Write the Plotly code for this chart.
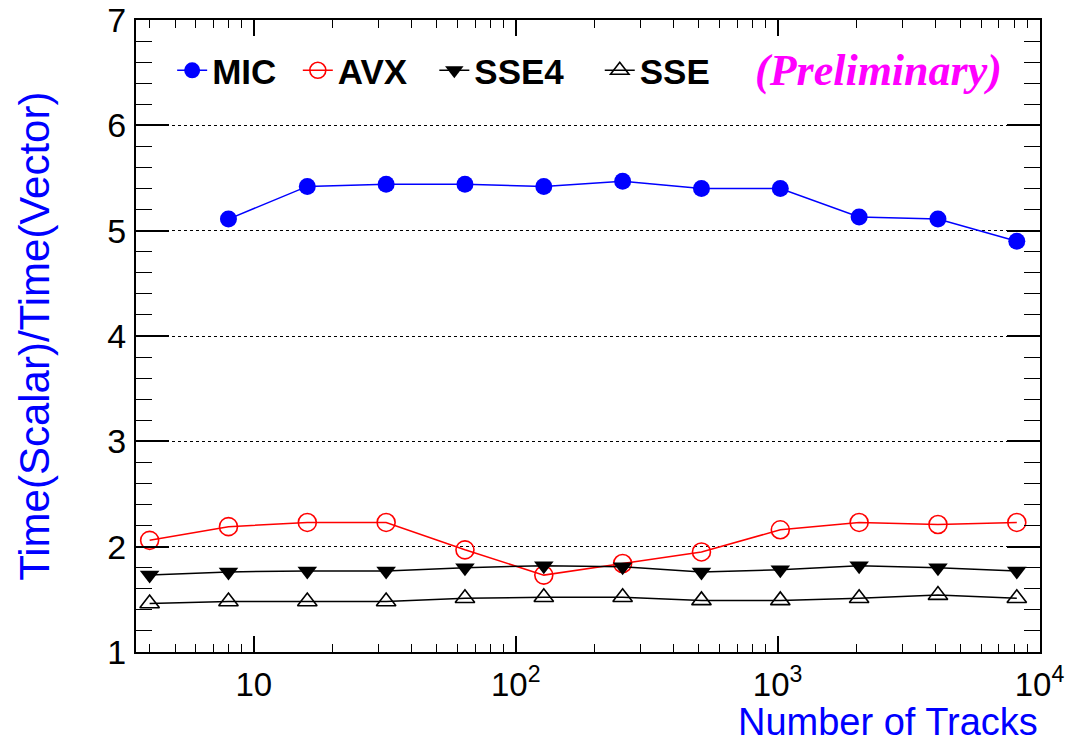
import plotly.graph_objects as go

tracks = [4, 8, 16, 32, 64, 128, 256, 512, 1024, 2048, 4096, 8192]
mic_tracks = tracks[1:]
mic = [5.11, 5.42, 5.44, 5.44, 5.42, 5.47, 5.40, 5.40, 5.13, 5.11, 4.90]
avx = [2.06, 2.19, 2.23, 2.23, 1.97, 1.73, 1.84, 1.95, 2.16, 2.23, 2.21, 2.23]
sse4 = [1.73, 1.76, 1.77, 1.77, 1.80, 1.82, 1.81, 1.76, 1.78, 1.82, 1.80, 1.77]
sse = [1.46, 1.48, 1.48, 1.48, 1.51, 1.52, 1.52, 1.49, 1.49, 1.51, 1.54, 1.51]

x_tickvals = [10, 100, 1000, 10000]
x_ticktext = ["10", "10<sup>2</sup>", "10<sup>3</sup>", "10<sup>4</sup>"]
x_minorvals = [4, 5, 6, 7, 8, 9, 20, 30, 40, 50, 60, 70, 80, 90,
               200, 300, 400, 500, 600, 700, 800, 900,
               2000, 3000, 4000, 5000, 6000, 7000, 8000, 9000]
y_tickvals = [1, 2, 3, 4, 5, 6, 7]

fig = go.Figure()
fig.add_trace(go.Scatter(x=mic_tracks, y=mic, name="MIC", mode="lines+markers", legend="legend",
                         line=dict(color="#0000ff", width=1.5),
                         marker=dict(symbol="circle", size=17, color="#0000ff")))
fig.add_trace(go.Scatter(x=tracks, y=avx, name="AVX", mode="lines+markers", legend="legend2",
                         line=dict(color="#ff0000", width=1.5),
                         marker=dict(symbol="circle-open", size=18, color="#ff0000", line=dict(width=1.6))))
fig.add_trace(go.Scatter(x=tracks, y=sse4, name="SSE4", mode="lines+markers", legend="legend3",
                         line=dict(color="black", width=1.5),
                         marker=dict(symbol="triangle-down", size=17, color="black")))
fig.add_trace(go.Scatter(x=tracks, y=sse, name="SSE", mode="lines+markers", legend="legend4",
                         line=dict(color="black", width=1.5),
                         marker=dict(symbol="triangle-up-open", size=17, color="black", line=dict(width=1.6))))

legend_font = dict(size=35, family="Liberation Sans, Arial, sans-serif", weight="bold", color="black")


def leg(xpos):
    return dict(orientation="h", x=xpos, y=0.92, xanchor="left", yanchor="middle",
                font=legend_font, bgcolor="rgba(0,0,0,0)", borderwidth=0)


fig.update_layout(
    width=1065, height=747,
    margin=dict(l=136, r=25, t=20, b=95),
    paper_bgcolor="white", plot_bgcolor="white",
    font=dict(family="Liberation Sans, Arial, sans-serif", color="black", size=34),
    showlegend=True,
    legend=leg(0.040), legend2=leg(0.179), legend3=leg(0.330), legend4=leg(0.513),
    xaxis=dict(type="log", range=[0.55, 4.002], tickvals=x_tickvals, ticktext=x_ticktext,
               automargin=False, ticklabeloverflow="allow",
               ticks="inside", ticklen=16, tickwidth=1.5, tickcolor="black",
               showline=True, linecolor="black", linewidth=2, mirror="allticks",
               showgrid=False, zeroline=False, tickfont=dict(size=33), ticklabelstandoff=2,
               minor=dict(ticks="inside", ticklen=8, tickwidth=1.3, tickcolor="black",
                          tickvals=x_minorvals, showgrid=False)),
    yaxis=dict(range=[1, 7], tickvals=y_tickvals, automargin=False, ticklabeloverflow="allow",
               ticks="inside", ticklen=33, tickwidth=1.5, tickcolor="black",
               showline=True, linecolor="black", linewidth=2, mirror="allticks",
               showgrid=True, gridcolor="black", griddash="dot", gridwidth=1.2,
               zeroline=False, tickfont=dict(size=34), ticklabelstandoff=1,
               minor=dict(ticks="inside", ticklen=16, tickwidth=1.3, tickcolor="black",
                          dtick=0.2, showgrid=False)),
    annotations=[
        dict(text="Number of Tracks", xref="paper", yref="paper", x=1.0, y=-0.11,
             xanchor="right", yanchor="middle", showarrow=False,
             font=dict(size=38, color="#0000ff")),
        dict(text="Time(Scalar)/Time(Vector)", xref="paper", yref="paper", x=-0.113, y=0.5,
             xanchor="center", yanchor="middle", textangle=-90, showarrow=False,
             font=dict(size=42, color="#0000ff")),
        dict(text="<b><i>(Preliminary)</i></b>", xref="paper", yref="paper", x=0.821, y=0.92,
             xanchor="center", yanchor="middle", showarrow=False,
             font=dict(size=44, color="#ff00ff", family="Liberation Serif, Times New Roman, serif")),
    ],
)

fig.write_html("out.html", config={"displayModeBar": False},
               post_script="document.body.style.margin='0px';")
